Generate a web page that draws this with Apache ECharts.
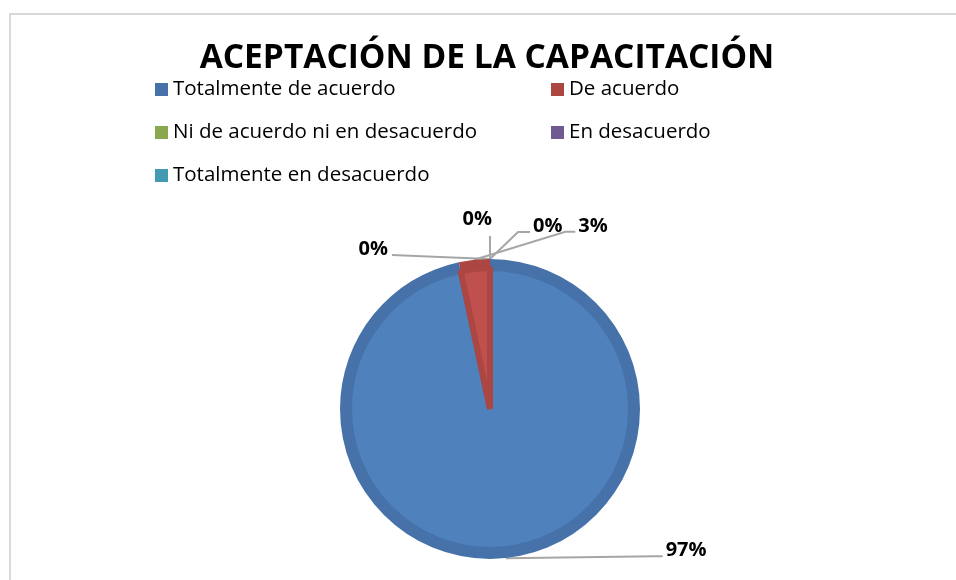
<!DOCTYPE html>
<html lang="es">
<head>
<meta charset="UTF-8">
<title>Aceptación de la capacitación</title>
<style>
  html, body, #chart { margin: 0; padding: 0; width: 956px; height: 580px; background: #fff; overflow: hidden; }
</style>
</head>
<body>
<div id="chart"></div>
<script src="https://cdn.jsdelivr.net/npm/echarts@6/dist/echarts.min.js"></script>
<script>
// data (answers out of 30)
const categories = ['Totalmente de acuerdo', 'De acuerdo', 'Ni de acuerdo ni en desacuerdo', 'En desacuerdo', 'Totalmente en desacuerdo'];
const counts = [29, 1, 0, 0, 0];
const colors = ['#4f81bd', '#c0504d', '#9bbb59', '#8064a2', '#4bacc6'];
const darkColors = ['#4672a9', '#ab4642', '#8aa84f', '#715992', '#439ab2'];

const total = counts.reduce((a, b) => a + b, 0);
const pieCenter = [490, 409];
const pieRadius = 150;

// where each label goes, relative to where its line leaves the pie
// [elbow dx, elbow dy, end dx, end dy]
const labelPaths = [
  [150, -2, 157, -2],
  [91, -28, 101, -28],
  [28, -27, 40, -27],
  [0, -12, 0, -23],
  [-50, -2, -98, -4]
];

function anchorPoint(i) {
  let before = 0;
  for (let k = 0; k < i; k++) before += counts[k];
  const mid = (before + counts[i] / 2) / total * Math.PI * 2;
  return [pieCenter[0] + pieRadius * Math.sin(mid), pieCenter[1] - pieRadius * Math.cos(mid)];
}

const chart = echarts.init(document.getElementById('chart'), null, { renderer: 'canvas' });

chart.setOption({
  backgroundColor: '#ffffff',
  animation: false,
  color: colors,
  title: {
    text: 'ACEPTACIÓN DE LA CAPACITACIÓN',
    left: 482,
    textAlign: 'center',
    top: 36,
    textStyle: { fontFamily: 'Open Sans', fontWeight: 'bold', fontSize: 33.5, color: '#000' }
  },
  legend: {
    data: categories,
    left: 150,
    top: 68,
    width: 810,
    itemGap: 10,
    itemWidth: 13,
    itemHeight: 13,
    icon: 'rect',
    textStyle: { fontFamily: 'Open Sans', fontSize: 20.5, color: '#000', width: 368, height: 33, lineHeight: 33 }
  },
  graphic: [{
    type: 'rect',
    shape: { x: 10, y: 14, width: 980, height: 620 },
    style: { fill: null, stroke: '#d9d9d9', lineWidth: 2 },
    silent: true
  }],
  series: [
    {
      type: 'pie',
      name: 'outer',
      center: pieCenter,
      radius: pieRadius,
      startAngle: 90,
      clockwise: true,
      avoidLabelOverlap: false,
      data: categories.map((c, i) => ({ name: c, value: counts[i], itemStyle: { color: darkColors[i] } })),
      label: {
        show: true,
        formatter: p => Math.round(p.value / total * 100) + '%',
        fontFamily: 'Open Sans',
        fontWeight: 'bold',
        fontSize: 20,
        color: '#000'
      },
      labelLine: { show: true, lineStyle: { color: '#a6a6a6', width: 2 } },
      labelLayout: function (params) {
        const i = params.dataIndex;
        const a = anchorPoint(i);
        const p = labelPaths[i];
        const elbow = [a[0] + p[0], a[1] + p[1]];
        const end = [a[0] + p[2], a[1] + p[3]];
        const res = { labelLinePoints: [a, elbow, end] };
        if (i === 3) {
          res.x = end[0] + 2; res.y = end[1] - 17; res.align = 'right'; res.verticalAlign = 'middle';
        } else if (i === 4) {
          res.x = end[0] - 4; res.y = end[1] - 6; res.align = 'right'; res.verticalAlign = 'middle';
        } else {
          res.x = end[0] + 3; res.y = end[1] - 6; res.align = 'left'; res.verticalAlign = 'middle';
        }
        return res;
      },
      emphasis: { disabled: true },
      z: 2
    },
    {
      type: 'pie',
      name: 'inner',
      center: pieCenter,
      radius: pieRadius - 9,
      startAngle: 90,
      clockwise: true,
      silent: true,
      data: categories.slice(0, 2).map((c, i) => ({ name: c, value: counts[i], itemStyle: { color: colors[i], borderColor: darkColors[i], borderWidth: 6, borderJoin: 'bevel' } })),
      label: { show: false },
      labelLine: { show: false },
      emphasis: { disabled: true },
      z: 3
    }
  ]
});
</script>
</body>
</html>
